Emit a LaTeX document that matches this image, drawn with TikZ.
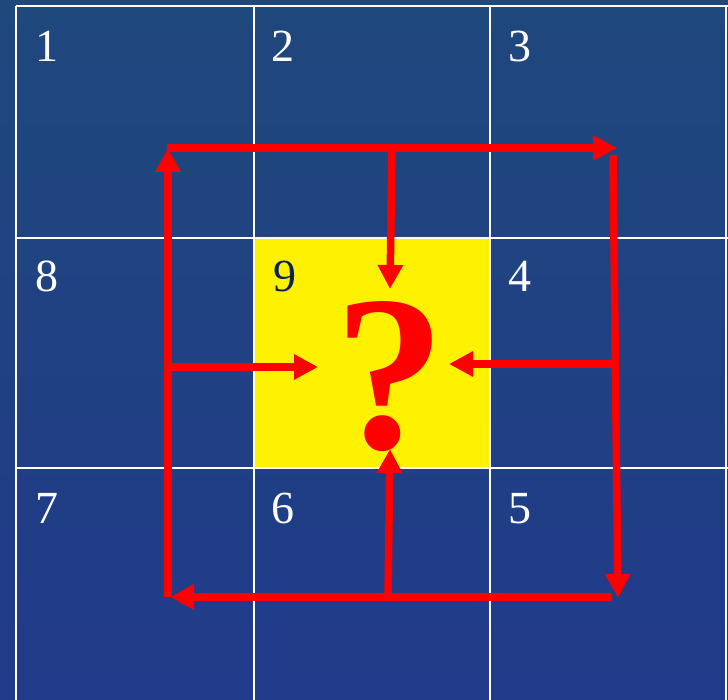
\documentclass[tikz,border=0pt]{standalone}
\usepackage{fontspec}
\setmainfont{Liberation Serif}
\usetikzlibrary{arrows.meta}
\definecolor{bgtop}{RGB}{31,72,124}
\definecolor{bgbot}{RGB}{33,58,138}
\definecolor{navy}{RGB}{12,34,84}
\definecolor{arrred}{RGB}{255,0,0}
\begin{document}
\begin{tikzpicture}[x=1pt,y=-1pt,
  gridline/.style={draw=white,line width=2pt},
  digit/.style={text=white,font=\fontsize{46}{46}\selectfont,inner sep=0pt,anchor=base west},
  redarrow/.style={draw=arrred,line width=7.5pt,-{Triangle[width=24pt,length=24pt]}},
  redline/.style={draw=arrred,line width=7.5pt}]
\useasboundingbox (0,0) rectangle (728,700);
\shade[top color=bgtop,bottom color=bgbot] (0,0) rectangle (728,700);
% yellow centre cell
\fill[yellow] (254,238) rectangle (490,468);
% grid
\draw[gridline] (16,6) -- (16,700);
\draw[gridline] (254,6) -- (254,700);
\draw[gridline] (490,6) -- (490,700);
\draw[gridline] (726,6) -- (726,700);
\draw[gridline] (16,6) -- (728,6);
\draw[gridline] (16,238) -- (728,238);
\draw[gridline] (16,468) -- (728,468);
% digits
\node[digit] (n1) at (35,62) {1};
\node[digit] (n2) at (271,62) {2};
\node[digit] (n3) at (508,62) {3};
\node[digit] (n8) at (35,292) {8};
\node[digit,text=navy] (n9) at (273,292) {9};
\node[digit] (n4) at (508,292) {4};
\node[digit] (n7) at (35,523) {7};
\node[digit] (n6) at (271,523) {6};
\node[digit] (n5) at (508,523) {5};
% question mark
\node[text=arrred,font=\fontsize{222}{222}\selectfont\bfseries,inner sep=0pt,anchor=base] (q) at (390,448) {?};
% corner coordinates
\coordinate (tl) at (168,148);
\coordinate (tr) at (617,148);
\coordinate (trs) at (613,155);
\coordinate (br) at (618,598);
\coordinate (brs) at (612,597);
\coordinate (bl) at (170,597);
\coordinate (bls) at (168,597);
\coordinate (tc) at (392,148);
\coordinate (tct) at (390,289);
\coordinate (lc) at (168,367);
\coordinate (lct) at (318,367);
\coordinate (rc) at (613,364);
\coordinate (rct) at (449,364);
\coordinate (bc) at (388,597);
\coordinate (bct) at (390,449);
% loop arrows
\draw[redarrow] (bls) -- (tl);
\draw[redarrow] (167,148) -- (tr);
\draw[redarrow] (trs) -- (br);
\draw[redarrow] (brs) -- (bl);
% inward arrows
\draw[redarrow] (tc) -- (tct);
\draw[redarrow] (lc) -- (lct);
\draw[redarrow] (rc) -- (rct);
\draw[redarrow] (bc) -- (bct);
\end{tikzpicture}
\end{document}
